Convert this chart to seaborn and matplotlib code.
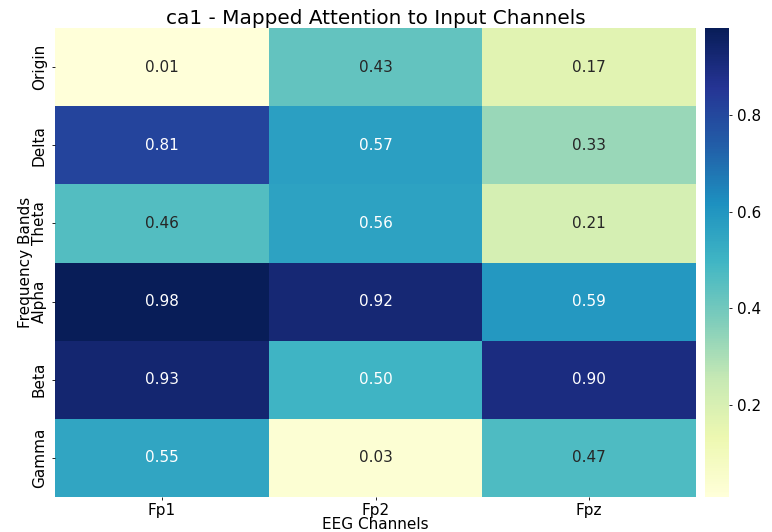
import matplotlib
matplotlib.use("Agg")
import matplotlib.pyplot as plt
import numpy as np
import pandas as pd
import seaborn as sns

# attention values
bands = ["Origin", "Delta", "Theta", "Alpha", "Beta", "Gamma"]
channels = ["Fp1", "Fp2", "Fpz"]
fp1 = [0.01, 0.81, 0.46, 0.98, 0.93, 0.55]
fp2 = [0.43, 0.57, 0.56, 0.92, 0.50, 0.03]
fpz = [0.17, 0.33, 0.21, 0.59, 0.90, 0.47]

df = pd.DataFrame({"Fp1": fp1, "Fp2": fp2, "Fpz": fpz}, index=bands)[channels]

fig = plt.figure(figsize=(7.72, 5.32), dpi=100)
ax = fig.add_axes([55 / 772, 35 / 532, 641 / 772, 469 / 532])
cax = fig.add_axes([705 / 772, 35 / 532, 24 / 772, 469 / 532])

sns.heatmap(df, annot=True, fmt=".2f", cmap="YlGnBu", ax=ax, cbar_ax=cax,
            annot_kws={"fontsize": 11})

ax.set_title("ca1 - Mapped Attention to Input Channels", fontsize=14.4, pad=3)
ax.set_xlabel("EEG Channels", fontsize=11)
ax.set_ylabel("Frequency Bands", fontsize=11)
ax.tick_params(axis="both", labelsize=11, length=2.5, width=0.6)
ax.tick_params(axis="x", pad=1.5)
ax.tick_params(axis="y", pad=3.5)
ax.set_yticklabels(bands, rotation=90, va="center")
ax.yaxis.set_label_coords(-0.034, 0.5)
ax.xaxis.set_label_coords(0.5, -0.043)
cax.tick_params(labelsize=11, length=2.5, width=0.6, pad=3)
cax.set_yticks([0.2, 0.4, 0.6, 0.8])
for s in cax.spines.values():
    s.set_visible(False)

fig.savefig("out.png", dpi=100)
